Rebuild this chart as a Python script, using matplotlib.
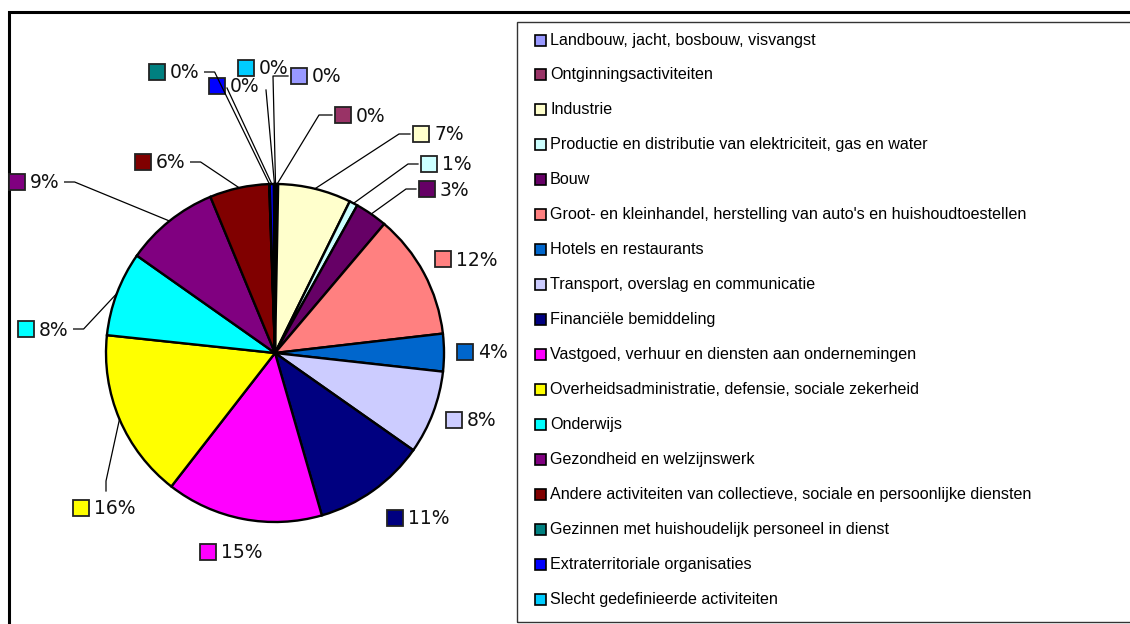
import matplotlib
matplotlib.use("Agg")
import matplotlib.pyplot as plt
from matplotlib.patches import Rectangle
import numpy as np

# ---- data ----
categories = [
    "Landbouw, jacht, bosbouw, visvangst",
    "Ontginningsactiviteiten",
    "Industrie",
    "Productie en distributie van elektriciteit, gas en water",
    "Bouw",
    "Groot- en kleinhandel, herstelling van auto's en huishoudtoestellen",
    "Hotels en restaurants",
    "Transport, overslag en communicatie",
    "Financiële bemiddeling",
    "Vastgoed, verhuur en diensten aan ondernemingen",
    "Overheidsadministratie, defensie, sociale zekerheid",
    "Onderwijs",
    "Gezondheid en welzijnswerk",
    "Andere activiteiten van collectieve, sociale en persoonlijke diensten",
    "Gezinnen met huishoudelijk personeel in dienst",
    "Extraterritoriale organisaties",
    "Slecht gedefinieerde activiteiten",
]
values = [0.1, 0.2, 7.0, 0.8, 3.1, 12.0, 3.6, 8.0, 10.8, 15.0, 16.2, 8.1, 9.0, 5.7, 0.05, 0.4, 0.1]
colors = ["#9999FF", "#993366", "#FFFFCC", "#CCFFFF", "#660066", "#FF8080", "#0066CC",
          "#CCCCFF", "#000080", "#FF00FF", "#FFFF00", "#00FFFF", "#800080", "#800000",
          "#008080", "#0000FF", "#00CCFF"]

# ---- layout (pixel positions of data labels: box left x, centre y) ----
label_pos = [(291, 76), (335, 115), (413, 134), (421, 164), (419, 189), (435, 259),
             (457, 352), (446, 420), (387, 518), (200, 552), (73, 508), (18, 329),
             (9, 182), (135, 162), (149, 72), (209, 86), (238, 68)]
# leader style: side from which the leader leaves the label, elbow length
leader = [("left", 15), ("left", 13), ("left", 11), ("left", 10), ("left", 10), (None, 0),
          (None, 0), (None, 0), (None, 0), (None, 0), ("top", 10), ("right", 10),
          ("right", 10), ("right", 10), ("right", 10), ("diag", 0), ("bottom", 0)]

W, H = 1130, 624
fig = plt.figure(figsize=(W / 100, H / 100), dpi=100)
ax = fig.add_axes([0, 0, 1, 1])

def P(x, y):
    return (x, H - y)

cx, cy, R = 275, 353, 169
wedges, _ = ax.pie(values, colors=colors, startangle=90, counterclock=False,
                   center=P(cx, cy), radius=R,
                   wedgeprops=dict(edgecolor="black", linewidth=1.7))
ax.set_xlim(0, W)
ax.set_ylim(0, H)
ax.set_aspect("equal")
ax.axis("off")

# outer frame
ax.add_patch(Rectangle(P(9, 640), 1200, 628, fill=False, edgecolor="black",
                       linewidth=2.2, clip_on=False))
# legend frame
ax.add_patch(Rectangle(P(517, 621.5), 700, 599.5, fill=False, edgecolor="#333333",
                       linewidth=1.0, clip_on=False))

# legend entries
leg_y0, leg_dy = 39.5, 34.95
for i, (cat, col) in enumerate(zip(categories, colors)):
    y = leg_y0 + i * leg_dy
    ax.add_patch(Rectangle(P(535, y + 6), 11, 11, facecolor=col, edgecolor="black",
                           linewidth=1.2))
    ax.text(*P(550, y + 0.5), cat, fontsize=11.6, family=["Liberation Sans", "DejaVu Sans"],
            va="center", ha="left", color="black")

# data labels
total = sum(values)
renderer = fig.canvas.get_renderer()
for i, (v, col) in enumerate(zip(values, colors)):
    bx, by = label_pos[i]
    pct = int(v / total * 100 + 0.5)
    ax.add_patch(Rectangle(P(bx, by + 8), 16, 16, facecolor=col, edgecolor="#222222",
                           linewidth=1.3))
    t = ax.text(*P(bx + 21, by + 1), f"{pct}%", fontsize=13.5, family="DejaVu Sans",
                va="center", ha="left", color="#111111")
    side, el = leader[i]
    if side is None:
        continue
    w = wedges[i]
    th = np.deg2rad((w.theta1 + w.theta2) / 2)
    ex, ey = P(cx, cy)
    ex += R * np.cos(th)
    ey += R * np.sin(th)
    bb = t.get_window_extent(renderer)
    if side == "left":
        sx, sy = P(bx - 3, by)
        pts = [(sx, sy), (sx - el, sy), (ex, ey)]
    elif side == "right":
        sx, sy = bb.x1 + 5, H - by
        pts = [(sx, sy), (sx + el, sy), (ex, ey)]
    elif side == "top":
        sx, sy = P(bx + 33, by - 17)
        pts = [(sx, sy), (sx, sy + el), (ex, ey)]
    elif side == "diag":
        sx, sy = P(bx + 18, by + 2)
        pts = [(sx, sy), (ex, ey)]
    else:  # bottom
        sx, sy = P(bx + 28, by + 22)
        pts = [(sx, sy), (ex, ey)]
    xs, ys = zip(*pts)
    ax.plot(xs, ys, color="black", linewidth=0.9)

fig.savefig("out.png", dpi=100)
